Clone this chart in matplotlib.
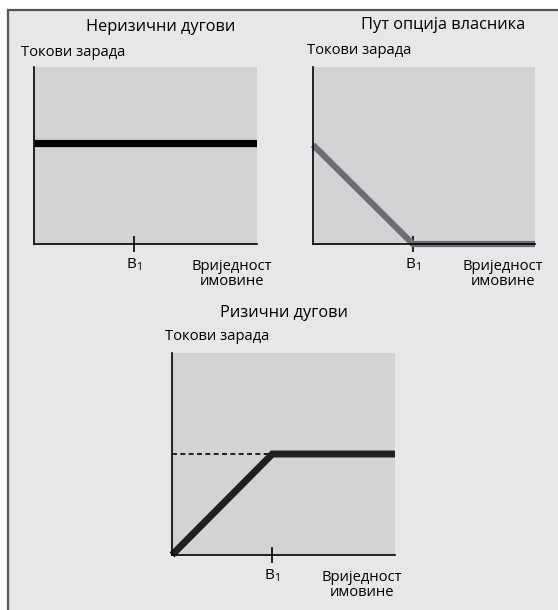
import matplotlib.pyplot as plt
from matplotlib.patches import Rectangle

plt.rcParams['font.family'] = ['Open Sans', 'DejaVu Sans']
plt.rcParams['mathtext.fontset'] = 'custom'
plt.rcParams['mathtext.rm'] = 'Open Sans'

# Подаци (вриједност имовине 0..10, B1 = 4.5)
b1 = 4.5
safe_x = [0, 10]
safe_y = [5.7, 5.7]
put_x = [0, 4.5, 10]
put_y = [5.6, 0, 0]
risky_x = [0, 4.5, 10]
risky_y = [0, 5, 5]
cap_x = [0, 4.5]
cap_y = [5, 5]

titles = ["Неризични дугови", "Пут опција власника", "Ризични дугови"]
ylab = "Токови зарада"
xlab = "Вриједност\nимовине"
b1_lab = r"B$_\mathregular{1}$"

W, H = 558, 610
fig = plt.figure(figsize=(W / 100, H / 100), dpi=100)
fig.patch.set_facecolor('white')


def fx(x):
    return x / W


def fy(y):
    return 1 - y / H


# сива позадина с оквиром (десно и доле излази ван слике)
fig.patches.append(Rectangle((fx(8), -0.1), 1, fy(10) + 0.1, transform=fig.transFigure,
                             facecolor='#e6e7e8', edgecolor='#555555', lw=1.6, zorder=-1))


def make_axes(left, top, right, bottom):
    ax = fig.add_axes([fx(left), fy(bottom), fx(right - left), (bottom - top) / H])
    ax.set_facecolor('#d1d3d4')
    for s in ['top', 'right']:
        ax.spines[s].set_visible(False)
    for s in ['left', 'bottom']:
        ax.spines[s].set_linewidth(1.2)
        ax.spines[s].set_color('black')
    ax.set_xlim(0, 10)
    ax.set_ylim(0, 10)
    ax.set_yticks([])
    ax.set_xticks([b1])
    ax.set_xticklabels([b1_lab])
    ax.tick_params(axis='x', direction='inout', length=12, width=1.2, pad=3,
                   labelsize=11, color='black')
    return ax


# Панел 1
ax1 = make_axes(34, 67, 257, 244)
ax1.plot(safe_x, safe_y, color='black', lw=5.2, solid_capstyle='butt')

# Панел 2
ax2 = make_axes(313, 67, 535, 244)
ax2.plot(put_x, put_y, color='#6d6e71', lw=4.5, solid_capstyle='butt',
         solid_joinstyle='miter', clip_on=False)

# Панел 3
ax3 = make_axes(172, 353, 395, 555)
ax3.plot(cap_x, cap_y, color='black', lw=1.2, ls=(0, (3, 2)))
ax3.plot(risky_x, risky_y, color='#231f20', lw=5, solid_capstyle='butt',
         solid_joinstyle='miter', clip_on=False)

# Наслови и ознаке оса
fig.text(fx(161), fy(27), titles[0], ha='center', va='center', fontsize=11.8)
fig.text(fx(443), fy(25), titles[1], ha='center', va='center', fontsize=11.8)
fig.text(fx(284), fy(313), titles[2], ha='center', va='center', fontsize=11.8)

fig.text(fx(21), fy(52), ylab, ha='left', va='center', fontsize=10.6)
fig.text(fx(307), fy(50), ylab, ha='left', va='center', fontsize=10.6)
fig.text(fx(165), fy(337), ylab, ha='left', va='center', fontsize=10.6)

fig.text(fx(232), fy(274), xlab, ha='center', va='center', fontsize=10.6, linespacing=1.0)
fig.text(fx(503), fy(274), xlab, ha='center', va='center', fontsize=10.6, linespacing=1.0)
fig.text(fx(362), fy(585), xlab, ha='center', va='center', fontsize=10.6, linespacing=1.0)

fig.savefig('out.png', dpi=100)
